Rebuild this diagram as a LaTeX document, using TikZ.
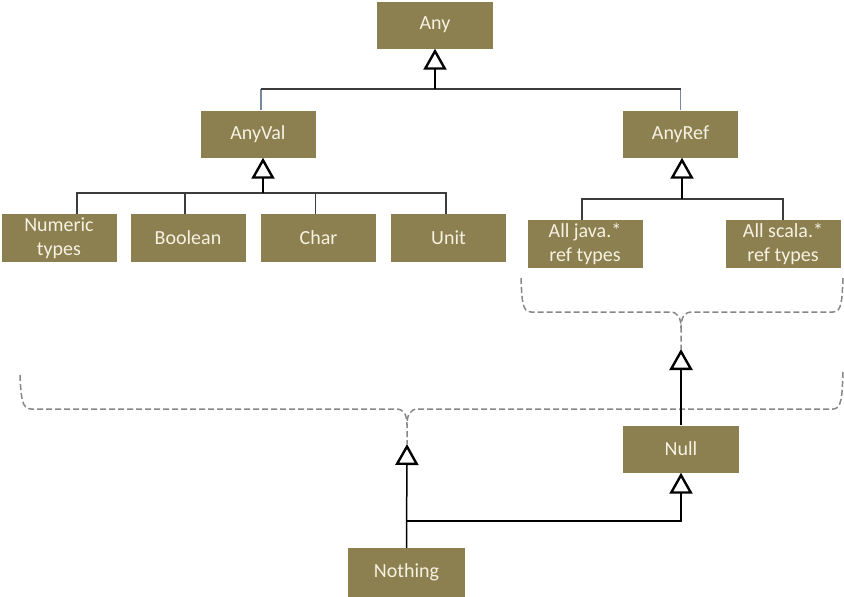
\documentclass[tikz,border=0pt]{standalone}
\usepackage{fontspec}
\setmainfont{Carlito}
\usetikzlibrary{arrows.meta}
\definecolor{boxfill}{RGB}{140,127,80}
\definecolor{boxtext}{RGB}{246,242,226}
\definecolor{linegray}{RGB}{60,60,60}
\definecolor{bluegray}{RGB}{120,135,160}
\definecolor{dashgray}{RGB}{135,135,135}
\tikzset{
  tbox/.style={fill=boxfill, text=boxtext, minimum width=115pt, minimum height=47pt,
    inner sep=0pt, align=center, font=\fontsize{20}{24}\selectfont},
  conn/.style={draw=linegray, line width=1.5pt},
  upconn/.style={draw=bluegray, line width=1.2pt},
  gen/.style={draw=black, line width=1.5pt,
    -{Triangle[open, length=21pt, width=23pt, line width=2.4pt]}},
  brace/.style={draw=dashgray, line width=1.5pt, dash pattern=on 6pt off 3pt}
}
\begin{document}
\begin{tikzpicture}[x=1pt,y=-1pt]
\useasboundingbox (0,0) rectangle (844,597);
% nodes
\node[tbox, minimum width=116pt] (any) at (435,25) {Any};
\node[tbox] (anyval) at (258,134) {AnyVal};
\node[tbox] (anyref) at (680.5,134) {AnyRef};
\node[tbox, minimum height=48pt] (numeric) at (59,238) {Numeric\\types};
\node[tbox, minimum height=48pt] (boolean) at (188,238) {Boolean};
\node[tbox, minimum height=48pt] (char) at (318.5,238) {Char};
\node[tbox, minimum height=48pt] (unit) at (448.5,238) {Unit};
\node[tbox, minimum height=48pt] (java) at (585,244) {All java.*\\ref types};
\node[tbox, minimum height=48pt] (scala) at (783,244) {All scala.*\\ref types};
\node[tbox, minimum width=116pt] (null) at (681,449) {Null};
\node[tbox, minimum width=117pt, minimum height=49pt] (nothing) at (406.5,572.5) {Nothing};
% junction coordinates
\coordinate (j1) at (435,89);
\coordinate (j2) at (263,193);
\coordinate (j3) at (682,199);
\coordinate (b1tip) at (681,349);
\coordinate (b2tip) at (407,444);
\coordinate (j4) at (407,521);
% Any <- AnyVal, AnyRef
\draw[upconn] ([xshift=3pt]anyval.north) -- ([xshift=3pt]anyval.north |- j1);
\draw[upconn] (anyref.north) -- (anyref.north |- j1);
\draw[conn] ([xshift=3pt]anyval.north |- j1) -- (anyref.north |- j1);
\draw[gen] (j1) -- (any.south);
% AnyVal <- value types
\draw[conn] ([xshift=18pt]numeric.north) |- (j2);
\draw[conn] ([xshift=-3pt]boolean.north) -- ([xshift=-3pt]boolean.north |- j2);
\draw[conn] ([xshift=-3pt]char.north) -- ([xshift=-3pt]char.north |- j2);
\draw[conn] ([xshift=-2.5pt]unit.north) |- (j2);
\draw[gen] (j2) -- (j2 |- anyval.south);
% AnyRef <- ref types
\draw[conn] ([xshift=-3pt]java.north) |- (j3) -| (scala.north);
\draw[gen] (j3) -- (j3 |- anyref.south);
% brace 1 under ref types
\draw[brace] (521,278) .. controls (522,300) and (522,312) .. (531,312) -- (670,312)
  .. controls (678,312) and (681,318) .. (681,328) -- (b1tip);
\draw[brace] (843,278) .. controls (842,300) and (842,312) .. (833,312) -- (692,312)
  .. controls (684,312) and (681,318) .. (681,328);
% brace 2 under everything
\draw[brace] (20,375) .. controls (21,398) and (22,409) .. (31,409) -- (396,409)
  .. controls (404,409) and (407,415) .. (407,425) -- (b2tip);
\draw[brace] (843,372) .. controls (842,396) and (842,409) .. (833,409) -- (418,409)
  .. controls (410,409) and (407,415) .. (407,425);
% Null -> ref types
\draw[gen] (null.north) -- (b1tip);
% Nothing -> everything, Nothing -> Null
\draw[gen] (nothing.north) -- (b2tip);
\draw[gen] (j4) -| (null.south);
\end{tikzpicture}
\end{document}
